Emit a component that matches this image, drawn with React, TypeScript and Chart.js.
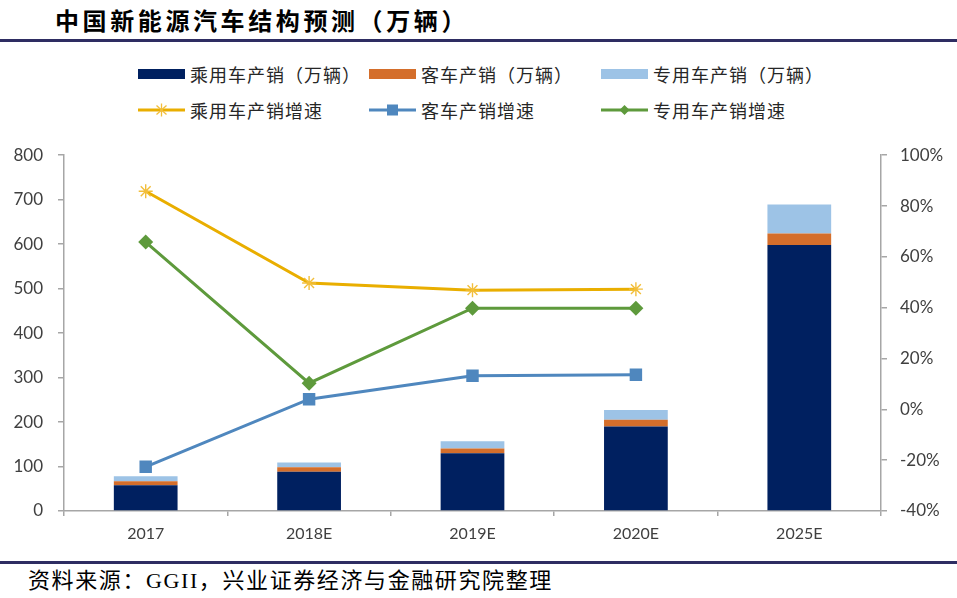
import React, { useEffect, useRef } from "react";
import { Chart, registerables } from "chart.js";

Chart.register(...registerables);

const categories = ["2017", "2018E", "2019E", "2020E", "2025E"];
const passengerSales = [58, 88, 130, 190, 598];
const busSales = [9, 10.5, 10.5, 15, 26];
const specialSales = [11, 10.5, 16.5, 22, 65];
const passengerGrowth = [85.8, 49.7, 46.9, 47.3, null];
const busGrowth = [-22.6, 4.0, 13.2, 13.6, null];
const specialGrowth = [65.8, 10.3, 39.8, 39.8, null];

const leftTicks = { min: 0, max: 800, step: 100 };
const rightTicks = { min: -40, max: 100, step: 20 };

const C_NAVY = "#002060";
const C_ORANGE = "#D46E2B";
const C_LIGHT = "#9DC3E6";
const C_YELLOW = "#E9AE00";
const C_BLUE = "#4F87BE";
const C_GREEN = "#5E9A3C";
const AXIS = "#a6a6a6";
const TXT = "#404040";

const legendItems = [
  { label: "乘用车产销（万辆）", kind: "bar", color: C_NAVY },
  { label: "客车产销（万辆）", kind: "bar", color: C_ORANGE },
  { label: "专用车产销（万辆）", kind: "bar", color: C_LIGHT },
  { label: "乘用车产销增速", kind: "star", color: C_YELLOW },
  { label: "客车产销增速", kind: "square", color: C_BLUE },
  { label: "专用车产销增速", kind: "diamond", color: C_GREEN },
];

function Marker({ kind, color }: { kind: string; color: string }) {
  return (
    <svg width={47} height={14} style={{ display: "block" }}>
      {kind === "bar" && <rect x={0} y={2} width={47} height={10} fill={color} />}
      {kind !== "bar" && <line x1={0} y1={7} x2={47} y2={7} stroke={color} strokeWidth={3} />}
      {kind === "star" && (
        <g stroke="#F2BE3A" strokeWidth={1.3}>
          <line x1={23.5} y1={0.5} x2={23.5} y2={13.5} />
          <line x1={18.5} y1={2.5} x2={28.5} y2={11.5} />
          <line x1={18.5} y1={11.5} x2={28.5} y2={2.5} />
        </g>
      )}
      {kind === "square" && <rect x={18} y={1.5} width={11} height={11} fill={color} />}
      {kind === "diamond" && <polygon points="23.5,2 28.5,7 23.5,12 18.5,7" fill={color} />}
    </svg>
  );
}

export default function App() {
  const canvasRef = useRef<HTMLCanvasElement | null>(null);

  useEffect(() => {
    document.body.style.margin = "0";
    const canvas = canvasRef.current;
    if (!canvas) return;
    const tickFont = { family: "Lato, 'Noto Sans', sans-serif", size: 17 };
    const chart = new Chart(canvas, {
      type: "bar",
      data: {
        labels: categories,
        datasets: [
          { type: "line", label: "乘用车产销增速", data: passengerGrowth, yAxisID: "y1", borderColor: C_YELLOW, backgroundColor: "#F2BE3A", pointBorderColor: "#F2BE3A", borderWidth: 3, pointStyle: "star", pointRadius: 7, pointBorderWidth: 1.4, order: 0 },
          { type: "line", label: "客车产销增速", data: busGrowth, yAxisID: "y1", borderColor: C_BLUE, backgroundColor: C_BLUE, pointBackgroundColor: C_BLUE, borderWidth: 3, pointStyle: "rect", pointRadius: 8.8, pointBorderWidth: 0, order: 0 },
          { type: "line", label: "专用车产销增速", data: specialGrowth, yAxisID: "y1", borderColor: C_GREEN, backgroundColor: C_GREEN, pointBackgroundColor: C_GREEN, borderWidth: 3, pointStyle: "rectRot", pointRadius: 7.5, pointBorderWidth: 0, order: 0 },
          { type: "bar", label: "乘用车产销（万辆）", data: passengerSales, yAxisID: "y", backgroundColor: C_NAVY, stack: "s", order: 1 },
          { type: "bar", label: "客车产销（万辆）", data: busSales, yAxisID: "y", backgroundColor: C_ORANGE, stack: "s", order: 1 },
          { type: "bar", label: "专用车产销（万辆）", data: specialSales, yAxisID: "y", backgroundColor: C_LIGHT, stack: "s", order: 1 },
        ] as any,
      },
      options: {
        animation: false,
        responsive: false,
        maintainAspectRatio: false,
        layout: { padding: { top: 0, left: 0, right: 0, bottom: 0 } },
        datasets: { bar: { barPercentage: 0.39, categoryPercentage: 1 } },
        plugins: { legend: { display: false }, tooltip: { enabled: false } },
        scales: {
          x: {
            stacked: true,
            grid: { offset: true, drawOnChartArea: false, drawTicks: true, tickLength: 5, color: AXIS, lineWidth: 1.5 },
            border: { color: AXIS, width: 1.5 },
            ticks: { font: { ...tickFont, size: 16 }, color: TXT, padding: 8 },
            afterFit: (s: any) => { s.height = 35; },
          },
          y: {
            position: "left",
            stacked: true,
            min: leftTicks.min,
            max: leftTicks.max,
            grid: { drawOnChartArea: false, drawTicks: true, tickLength: 6, color: AXIS, lineWidth: 1.5 },
            border: { color: AXIS, width: 1.5 },
            ticks: { stepSize: leftTicks.step, font: tickFont, color: TXT, padding: 15 },
            afterFit: (s: any) => { s.width = 64; },
          },
          y1: {
            position: "right",
            stacked: false,
            min: rightTicks.min,
            max: rightTicks.max,
            grid: { drawOnChartArea: false, drawTicks: true, tickLength: 6, color: AXIS, lineWidth: 1.5 },
            border: { color: AXIS, width: 1.5 },
            ticks: { stepSize: rightTicks.step, font: tickFont, color: TXT, padding: 13, callback: (v: any) => v + "%" },
            afterFit: (s: any) => { s.width = 76; },
          },
        },
      } as any,
    });
    return () => chart.destroy();
  }, []);

  return (
    <div style={{ position: "relative", width: 957, height: 598, background: "#fff", overflow: "hidden" }}>
      <div
        style={{
          position: "absolute", left: 55, top: 5, fontFamily: "'Noto Sans CJK SC', sans-serif",
          fontWeight: 700, fontSize: 24, letterSpacing: 3.6, color: "#000", lineHeight: "30px", whiteSpace: "nowrap",
        }}
      >
        中国新能源汽车结构预测（万辆）
      </div>
      <div style={{ position: "absolute", left: 0, top: 39, width: 957, height: 3, background: "#2E2D62" }} />
      <div
        style={{
          position: "absolute", left: 138, top: 62, display: "grid",
          gridTemplateColumns: "231px 232px 240px", rowGap: 12,
          fontFamily: "'Noto Sans CJK SC', sans-serif", fontSize: 18, color: "#262626",
        }}
      >
        {legendItems.map((it) => (
          <div key={it.label} style={{ display: "flex", alignItems: "center", height: 24, whiteSpace: "nowrap" }}>
            <Marker kind={it.kind} color={it.color} />
            <span style={{ marginLeft: 5, letterSpacing: 1 }}>{it.label}</span>
          </div>
        ))}
      </div>
      <canvas ref={canvasRef} width={957} height={416} style={{ position: "absolute", left: 0, top: 130, width: 957, height: 416 }} />
      <div style={{ position: "absolute", left: 0, top: 561, width: 957, height: 3, background: "#2E2D62" }} />
      <div
        style={{
          position: "absolute", left: 28, top: 567, fontFamily: "'Liberation Serif', 'Noto Sans CJK SC', serif",
          fontSize: 22, letterSpacing: 1.6, color: "#000", lineHeight: "28px", whiteSpace: "nowrap",
        }}
      >
        资料来源：GGII，兴业证券经济与金融研究院整理
      </div>
    </div>
  );
}
